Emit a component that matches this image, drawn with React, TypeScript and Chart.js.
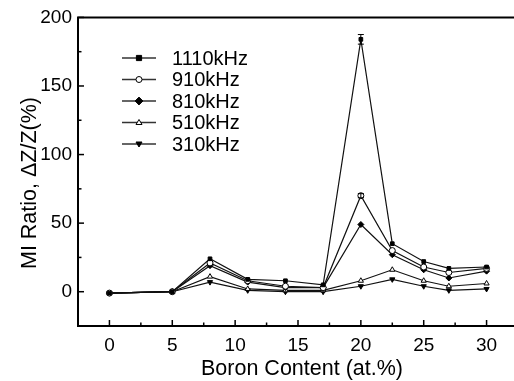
import React, { useEffect, useRef } from "react";
import { Chart, registerables } from "chart.js";

Chart.register(...registerables);

const boron = [0, 5, 8, 11, 14, 17, 20, 22.5, 25, 27, 30];
const mi1110 = [-1, 0, 24, 9, 8, 5, 184, 35, 22, 17, 18];
const mi910 = [-1, 0, 21, 8, 4, 3, 70, 30, 18, 14, 17];
const mi810 = [-1, 0, 19, 7, 3, 3, 49, 27, 16, 10, 15];
const mi510 = [-1, 0, 11, 2, 1, 1, 8, 16, 8, 4, 6];
const mi310 = [-1, 0, 7, 1, 0, 0, 4, 9, 4, 1, 2];
const err1110 = [0, 0, 0, 0, 0, 0, 3.5, 0, 0, 0, 0];
const err910 = [0, 0, 0, 0, 0, 0, 1.5, 0, 0, 0, 0];

const seriesLabels = ["1110kHz", "910kHz", "810kHz", "510kHz", "310kHz"];
const xTitle = "Boron Content (at.%)";
const yTitle = "MI Ratio, \u0394Z/Z(%)";

const FONT = "'Liberation Sans', Arial, sans-serif";

function drawMarker(ctx: CanvasRenderingContext2D, style: string, rot: number, fill: boolean, r: number, x: number, y: number) {
  ctx.save();
  ctx.fillStyle = fill ? "#000" : "#fff";
  ctx.strokeStyle = "#000";
  ctx.lineWidth = 1;
  ctx.beginPath();
  if (style === "rect") {
    ctx.rect(x - r, y - r, 2 * r, 2 * r);
  } else if (style === "circle") {
    ctx.arc(x, y, r, 0, Math.PI * 2);
  } else if (style === "rectRot") {
    ctx.moveTo(x, y - r * 1.3);
    ctx.lineTo(x + r * 1.3, y);
    ctx.lineTo(x, y + r * 1.3);
    ctx.lineTo(x - r * 1.3, y);
    ctx.closePath();
  } else {
    const s = rot === 180 ? -1 : 1;
    const h = r * 1.5;
    ctx.moveTo(x, y - s * h * 0.67);
    ctx.lineTo(x + r, y + s * h * 0.33 + s * 0.5);
    ctx.lineTo(x - r, y + s * h * 0.33 + s * 0.5);
    ctx.closePath();
  }
  ctx.fill();
  ctx.stroke();
  ctx.restore();
}

export default function App() {
  const ref = useRef<HTMLCanvasElement | null>(null);

  useEffect(() => {
    const canvas = ref.current;
    if (!canvas) return;
    const mk = (vals: number[], i: number, style: string, fill: boolean, rot: number, errs?: number[]) => ({
      label: seriesLabels[i],
      data: boron.map((x, k) => ({ x, y: vals[k] })),
      errs,
      isFilled: fill,
      borderColor: "#111",
      borderWidth: 1.2,
      backgroundColor: fill ? "#000" : "#fff",
      pointBorderColor: "#000",
      pointBackgroundColor: fill ? "#000" : "#fff",
      pointStyle: style,
      pointRotation: rot,
      pointRadius: style === "rect" ? 2.6 : 3,
      pointBorderWidth: 1,
      tension: 0,
      fill: false,
    });

    const datasets: any[] = [
      mk(mi1110, 0, "rect", true, 0, err1110),
      mk(mi910, 1, "circle", false, 0, err910),
      mk(mi810, 2, "rectRot", true, 0),
      mk(mi510, 3, "triangle", false, 0),
      mk(mi310, 4, "triangle", true, 180),
    ];

    const decor = {
      id: "decor",
      afterDatasetsDraw(chart: any) {
        const ctx = chart.ctx;
        const xs = chart.scales.x;
        const ys = chart.scales.y;
        const ca = chart.chartArea;
        ctx.save();
        // error bars
        ctx.strokeStyle = "#000";
        ctx.lineWidth = 1;
        chart.data.datasets.forEach((ds: any) => {
          if (!ds.errs) return;
          ds.data.forEach((p: any, k: number) => {
            const e = ds.errs[k];
            if (!e) return;
            const px = xs.getPixelForValue(p.x);
            const y1 = ys.getPixelForValue(p.y + e);
            const y2 = ys.getPixelForValue(p.y - e);
            ctx.beginPath();
            ctx.moveTo(px, y1);
            ctx.lineTo(px, y2);
            ctx.moveTo(px - 3, y1);
            ctx.lineTo(px + 3, y1);
            ctx.moveTo(px - 3, y2);
            ctx.lineTo(px + 3, y2);
            ctx.stroke();
          });
        });
        // frame
        ctx.strokeStyle = "#000";
        ctx.lineWidth = 2;
        ctx.beginPath();
        ctx.moveTo(ca.left, ca.top);
        ctx.lineTo(ca.right, ca.top);
        ctx.lineTo(ca.right, ca.bottom);
        ctx.lineTo(ca.left, ca.bottom);
        ctx.closePath();
        ctx.stroke();
        // ticks (inward)
        ctx.lineWidth = 1.5;
        xs.ticks.forEach((t: any) => {
          const v = t.value;
          const major = Math.abs(v / 5 - Math.round(v / 5)) < 1e-6;
          const px = xs.getPixelForValue(v);
          const len = major ? 6 : 3.5;
          ctx.beginPath();
          ctx.moveTo(px, ca.bottom);
          ctx.lineTo(px, ca.bottom - len);
          ctx.stroke();
        });
        ys.ticks.forEach((t: any) => {
          const v = t.value;
          const major = Math.abs(v / 50 - Math.round(v / 50)) < 1e-6;
          const py = ys.getPixelForValue(v);
          const len = major ? 6 : 3.5;
          ctx.beginPath();
          ctx.moveTo(ca.left, py);
          ctx.lineTo(ca.left + len, py);
          ctx.stroke();
        });
        // titles
        ctx.fillStyle = "#000";
        ctx.font = `21.5px ${FONT}`;
        ctx.textAlign = "center";
        ctx.textBaseline = "middle";
        ctx.fillText(xTitle, 302, 369);
        ctx.save();
        ctx.translate(30, 183);
        ctx.rotate(-Math.PI / 2);
        ctx.fillText(yTitle, 0, 0);
        ctx.restore();
        // legend
        const rows = [58, 79.5, 101, 122.5, 144];
        ctx.font = `20px ${FONT}`;
        ctx.textAlign = "left";
        chart.data.datasets.forEach((ds: any, i: number) => {
          const y = rows[i];
          ctx.strokeStyle = "#333";
          ctx.lineWidth = 1.3;
          ctx.beginPath();
          ctx.moveTo(122, y);
          ctx.lineTo(156, y);
          ctx.stroke();
          drawMarker(ctx, ds.pointStyle, ds.pointRotation, ds.isFilled, ds.pointRadius, 139, y);
          ctx.fillStyle = "#000";
          ctx.fillText(ds.label, 172, y + 1);
        });
        ctx.restore();
      },
    };

    const chart = new Chart(canvas, {
      type: "line",
      data: { datasets },
      plugins: [decor],
      options: {
        responsive: false,
        animation: false,
        layout: { padding: { left: 0, top: 16, right: 22, bottom: 0 } },
        plugins: { legend: { display: false }, tooltip: { enabled: false } },
        scales: {
          x: {
            type: "linear",
            min: -2.5,
            max: 32.5,
            grid: { display: false, drawTicks: false },
            border: { display: false },
            afterFit(s: any) {
              s.height = 55;
            },
            ticks: {
              stepSize: 2.5,
              autoSkip: false,
              maxRotation: 0,
              padding: 8,
              color: "#000",
              font: { family: FONT, size: 19 },
              callback: (v: any) => {
                const n = Number(v);
                if (n < 0) return "";
                return Math.abs(n / 5 - Math.round(n / 5)) < 1e-6 ? String(Math.round(n)) : "";
              },
            },
          },
          y: {
            type: "linear",
            min: -25,
            max: 200,
            grid: { display: false, drawTicks: false },
            border: { display: false },
            afterFit(s: any) {
              s.width = 78;
            },
            ticks: {
              stepSize: 25,
              autoSkip: false,
              padding: 6,
              color: "#000",
              font: { family: FONT, size: 19 },
              callback: (v: any) => {
                const n = Number(v);
                if (n < 0) return "";
                return Math.abs(n / 50 - Math.round(n / 50)) < 1e-6 ? String(Math.round(n)) : "";
              },
            },
          },
        },
      } as any,
    });
    return () => {
      chart.destroy();
    };
  }, []);

  return (
    <div
      style={{
        position: "fixed",
        left: 0,
        top: 0,
        width: 514,
        height: 381,
        overflow: "hidden",
        background: "#fff",
      }}
    >
      <canvas ref={ref} width={540} height={381} style={{ width: 540, height: 381, display: "block" }} />
    </div>
  );
}
